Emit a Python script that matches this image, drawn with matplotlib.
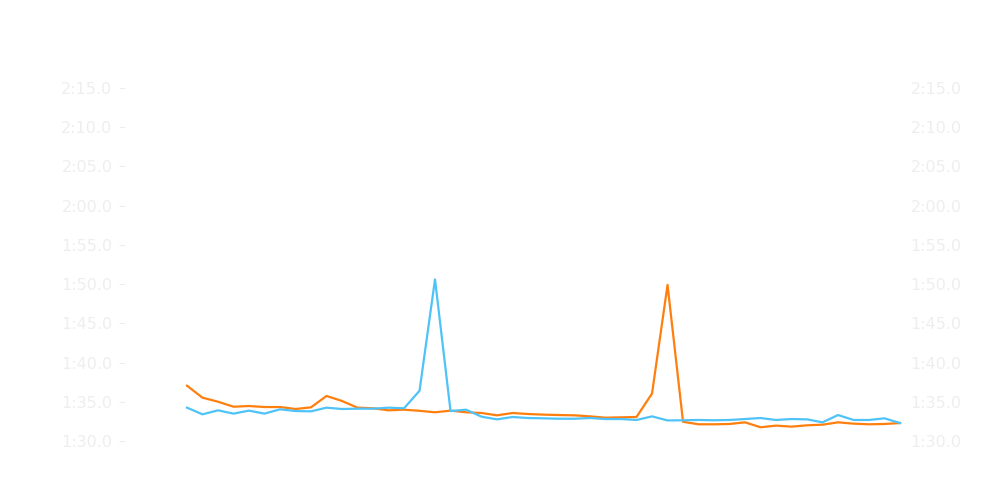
import matplotlib
matplotlib.use("Agg")
import matplotlib.pyplot as plt
from matplotlib.ticker import FuncFormatter, MultipleLocator

# lap times in seconds, one value per lap
laps = list(range(1, 48))

orange_times = [
    97.05, 95.52, 95.01, 94.37, 94.46, 94.33, 94.33, 94.08, 94.29, 95.74,
    95.10, 94.25, 94.17, 93.91, 93.99, 93.85, 93.66, 93.87, 93.66, 93.57,
    93.27, 93.57, 93.44, 93.36, 93.31, 93.27, 93.14, 92.97, 93.02, 93.06,
    96.05, 109.9, 92.45, 92.13, 92.13, 92.17, 92.38, 91.75, 91.96, 91.83,
    92.00, 92.08, 92.38, 92.21, 92.13, 92.17, 92.29,
]

blue_times = [
    94.25, 93.40, 93.91, 93.49, 93.87, 93.49, 94.04, 93.82, 93.78, 94.25,
    94.08, 94.12, 94.12, 94.25, 94.17, 96.40, 110.6, 93.82, 93.99, 93.10,
    92.76, 93.06, 92.93, 92.89, 92.84, 92.84, 92.93, 92.80, 92.80, 92.68,
    93.14, 92.62, 92.64, 92.68, 92.64, 92.68, 92.80, 92.93, 92.68, 92.80,
    92.76, 92.38, 93.31, 92.68, 92.68, 92.89, 92.29,
]

label_color = "#eeeeee"


def lap_fmt(v, pos):
    m = int(v // 60)
    s = v - m * 60
    return f"{m}:{s:04.1f}"


fig = plt.figure(figsize=(10, 5), dpi=100)
ax = fig.add_axes([0.125, 0.118, 0.78, 0.706])

ax.plot(laps, orange_times, color="#ff7f0e", linewidth=1.6)
ax.plot(laps, blue_times, color="#4fc3f7", linewidth=1.6)

ax.set_xlim(laps[0] - 4.0, laps[-1] + 0.32)
ax.set_ylim(90, 135)
ax.yaxis.set_major_locator(MultipleLocator(5))
ax.yaxis.set_major_formatter(FuncFormatter(lap_fmt))
ax.tick_params(axis="y", colors=label_color, labelsize=11.5, length=4, pad=5)
ax.set_xticks([])
for sp in ax.spines.values():
    sp.set_visible(False)

ax2 = ax.twinx()
ax2.set_ylim(ax.get_ylim())
ax2.yaxis.set_major_locator(MultipleLocator(5))
ax2.yaxis.set_major_formatter(FuncFormatter(lap_fmt))
ax2.tick_params(axis="y", colors=label_color, labelsize=11.5, length=0, pad=4)
for sp in ax2.spines.values():
    sp.set_visible(False)

plt.savefig("out.png")
